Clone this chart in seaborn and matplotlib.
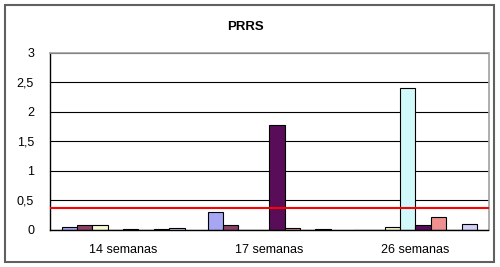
import matplotlib
matplotlib.use("Agg")
import matplotlib.pyplot as plt
import seaborn as sns
import pandas as pd
from matplotlib.patches import Rectangle

categories = ["14 semanas", "17 semanas", "26 semanas"]
series_names = ["Serie 1", "Serie 2", "Serie 3", "Serie 4", "Serie 5", "Serie 6", "Serie 7", "Serie 8"]
values_14 = [0.045, 0.08, 0.08, 0.0, 0.015, 0.0, 0.01, 0.03]
values_17 = [0.31, 0.085, 0.0, 0.0, 1.78, 0.035, 0.0, 0.01]
values_26 = [0.0, 0.0, 0.055, 2.4, 0.085, 0.22, 0.0, 0.1]
threshold = 0.37
y_ticks = [0, 0.5, 1, 1.5, 2, 2.5, 3]
y_tick_labels = ["0", "0,5", "1", "1,5", "2", "2,5", "3"]
colors = ["#9999FF", "#993366", "#FFFFCC", "#CCFFFF", "#660066", "#FF8080", "#0066CC", "#CCCCFF"]

rows = []
for cat, vals in zip(categories, [values_14, values_17, values_26]):
    for s, v in zip(series_names, vals):
        rows.append({"semana": cat, "serie": s, "valor": v})
df = pd.DataFrame(rows)

sns.set_theme(style="white")
plt.rcParams["font.family"] = ["Liberation Sans", "DejaVu Sans"]

fig = plt.figure(figsize=(5.0, 2.67), dpi=100)
ax = fig.add_axes([0.1, 0.1386, 0.877, 0.664])

sns.barplot(data=df, x="semana", y="valor", hue="serie", order=categories,
            hue_order=series_names, palette=colors, width=8 / 9.5, gap=0,
            edgecolor="black", linewidth=0.8, legend=False, ax=ax, errorbar=None)

ax.axhline(threshold, color="#FF0000", lw=1.5, zorder=5)

ax.set_xlim(-0.5, 2.5)
ax.set_ylim(0, 3)
ax.set_yticks(y_ticks)
ax.set_yticklabels(y_tick_labels, fontsize=9, color="black")
ax.set_xticks([0, 1, 2])
ax.set_xticklabels(categories, fontsize=9, color="black")
ax.set_xticks([-0.5, 0.5, 1.5, 2.5], minor=True)
ax.tick_params(axis="x", which="major", length=0, pad=10)
ax.tick_params(axis="x", which="minor", length=4, width=0.8, direction="out", color="black")
ax.tick_params(axis="y", which="major", length=7, width=0.8, direction="inout", color="black", pad=8)
ax.set_xlabel("")
ax.set_ylabel("")

ax.set_axisbelow(True)
ax.yaxis.grid(True, color="black", lw=0.8)
ax.xaxis.grid(False)
for side in ["left", "bottom"]:
    ax.spines[side].set_color("black")
    ax.spines[side].set_linewidth(1.0)
for side in ["top", "right"]:
    ax.spines[side].set_color("#A0A0A0")
    ax.spines[side].set_linewidth(1.2)

fig.text(245.5 / 500, 1 - 27 / 267, "PRRS", ha="center", va="center",
         fontsize=9.5, fontweight="bold", color="black")

frame = Rectangle((5 / 500, 5 / 267), 489 / 500, 257 / 267, transform=fig.transFigure,
                  fill=False, edgecolor="#606060", lw=1.5)
fig.patches.append(frame)

fig.savefig("out.png", dpi=100)
